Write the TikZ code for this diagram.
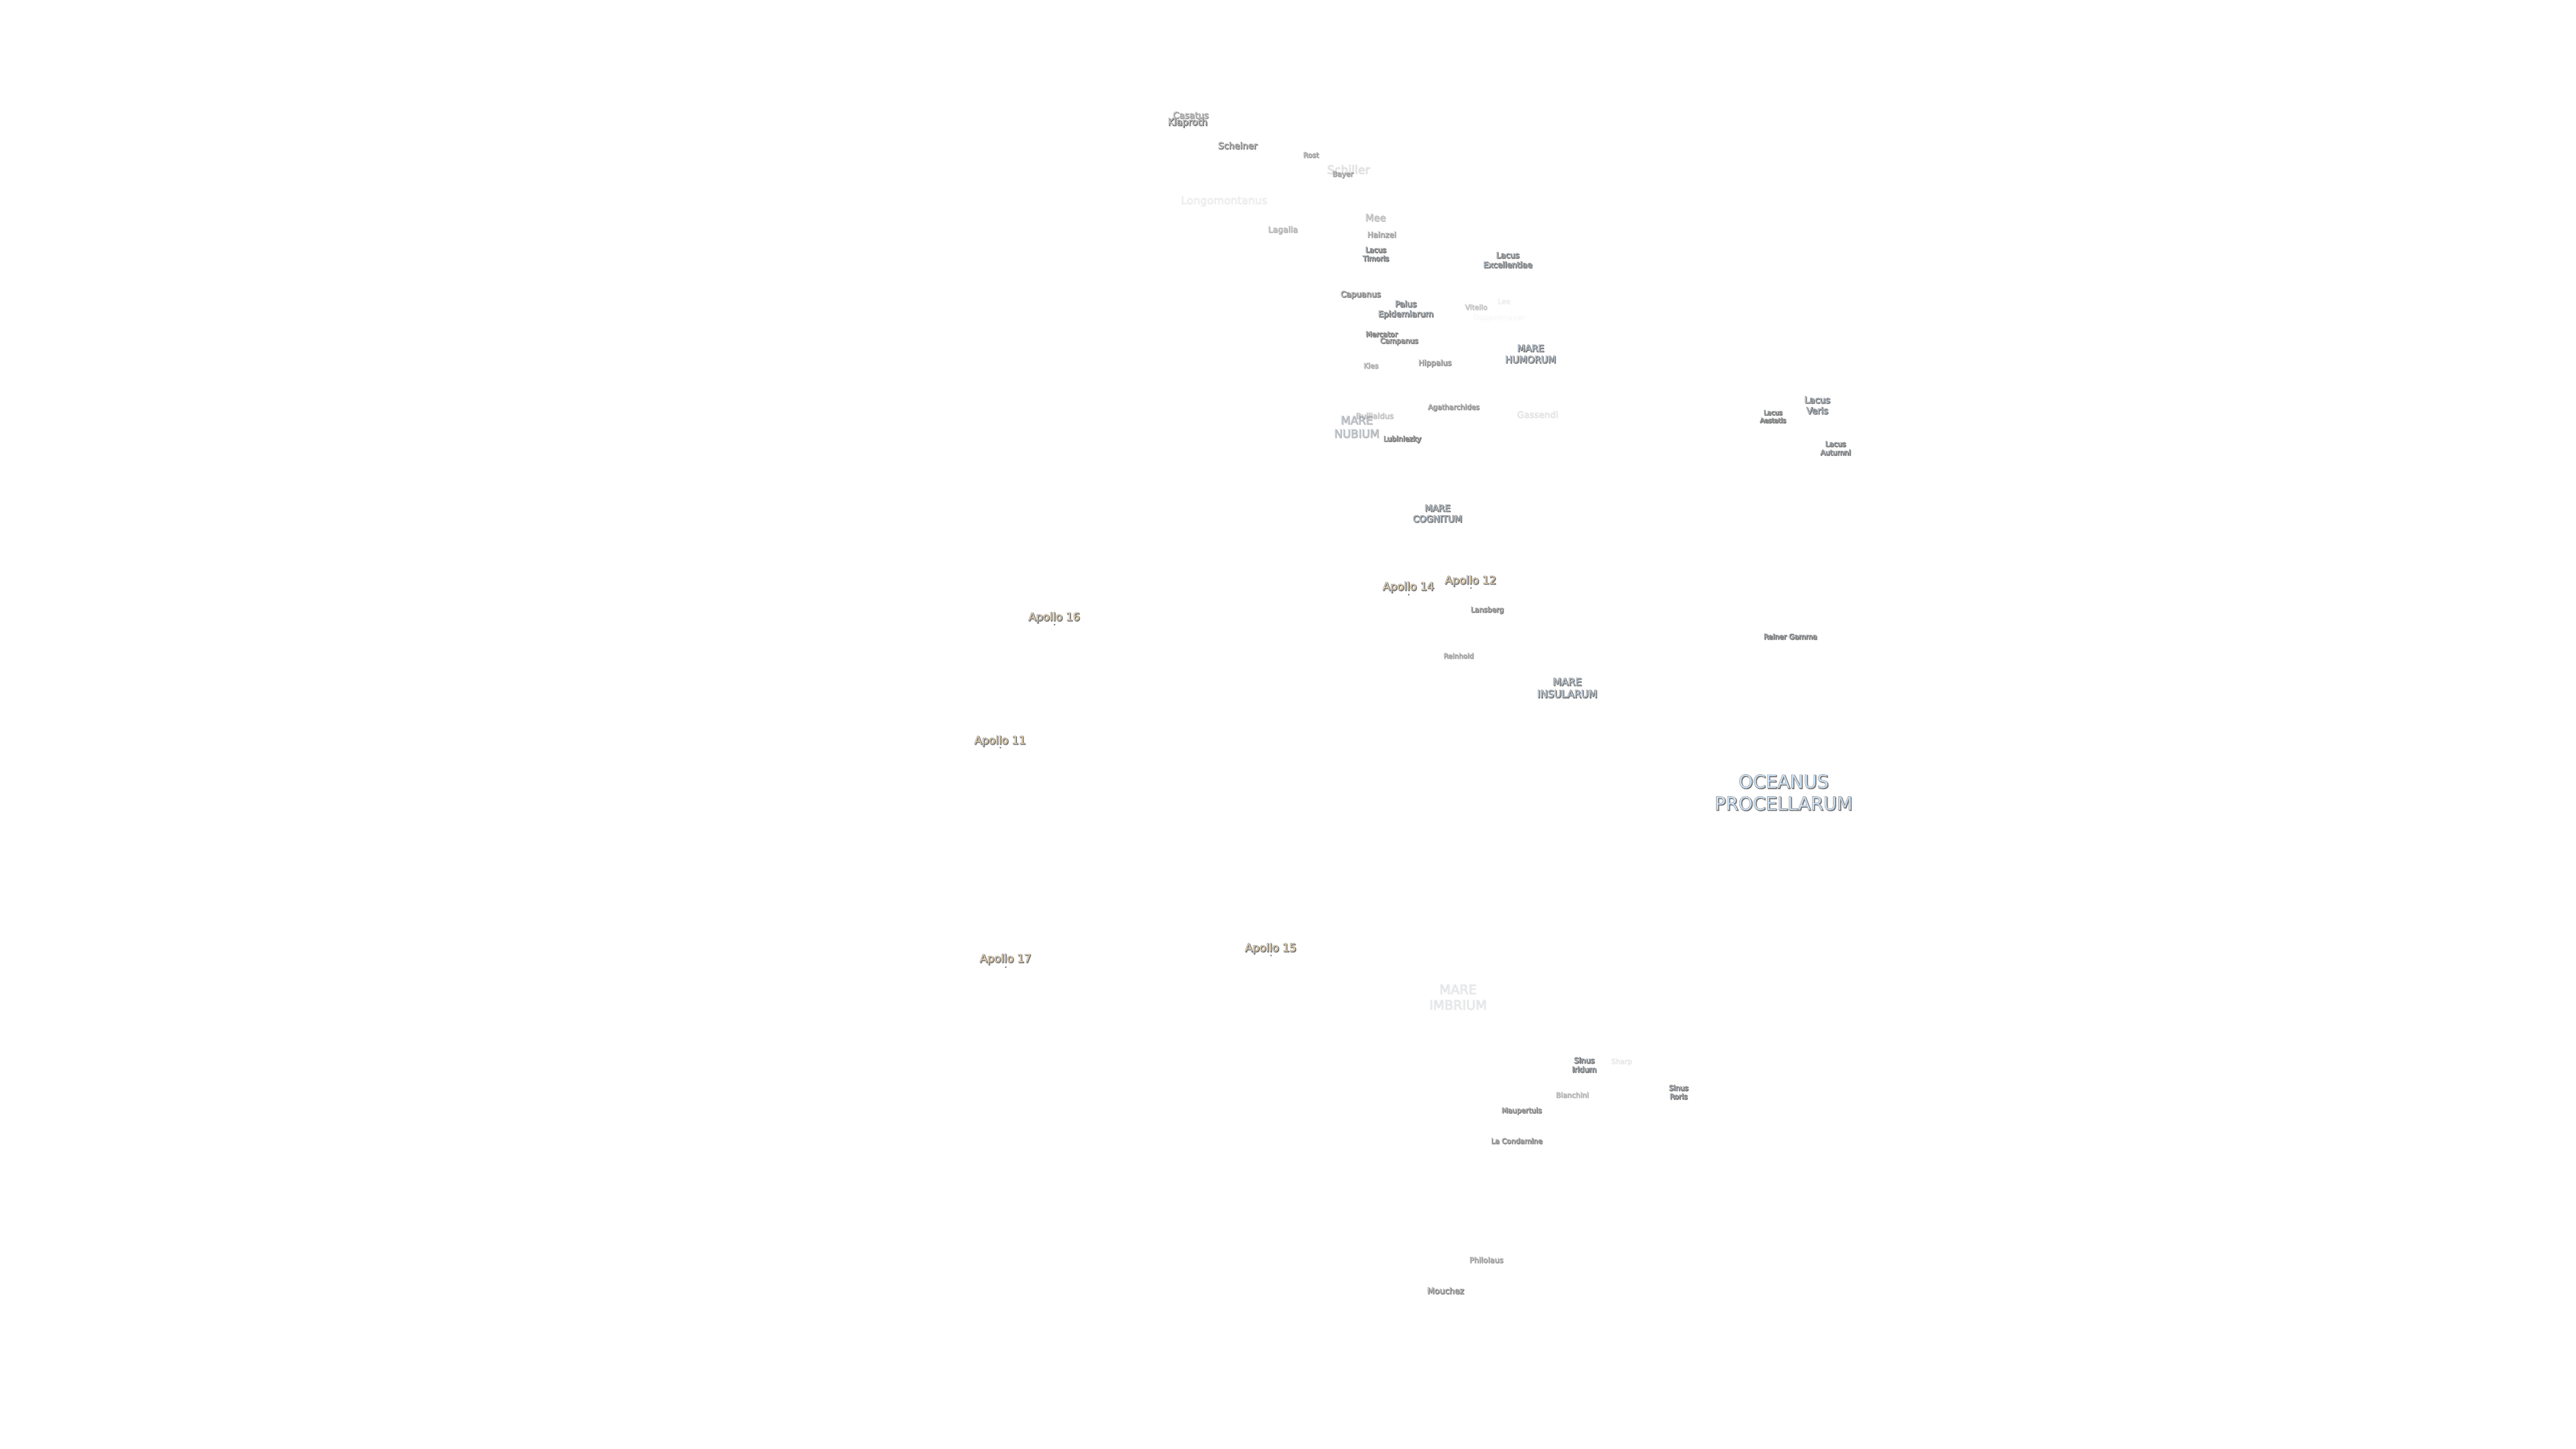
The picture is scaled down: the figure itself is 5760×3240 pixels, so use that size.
\documentclass[tikz,border=0pt]{standalone}
\usepackage{fontspec}
\setmainfont{DejaVu Sans}
\usepackage{xcolor}
\usetikzlibrary{positioning}
\definecolor{craterfill}{HTML}{F4F4F4}
\definecolor{marefill}{HTML}{CFE6FF}
\definecolor{apollofill}{HTML}{FFE2AE}
\definecolor{shadowgrey}{HTML}{777777}
% outlined text: stroke and fill at once
\newcommand{\outlined}[2]{\special{pdf:code 2 Tr #1 w 0.58 0.58 0.58 RG}#2\special{pdf:code 0 Tr}}
\newcommand{\shadowed}[2]{\special{pdf:code 2 Tr #1 w 0.47 0.47 0.47 RG}#2\special{pdf:code 0 Tr}}
\tikzset{
	moon/.style={align=center,inner sep=0pt,anchor=center},
	apollodot/.style={circle,fill=shadowgrey,inner sep=0pt,minimum size=1pt}
}
% one label, its shadow first: x, y, size, opacity, name, text, fill
\newcommand{\moonlabel}[7]{%
	\pgfmathsetmacro{\fs}{#3*0.25}
	\pgfmathsetmacro{\ls}{\fs*1.2}
	\node[moon,opacity=#4,text=shadowgrey,font=\fontsize{\fs}{\ls}\selectfont] (#5s) at (#1+1.6,#2+1.6) {\shadowed{0.34}{#6}};
	\node[moon,opacity=#4,text=#7,font=\fontsize{\fs}{\ls}\selectfont] (#5) at (#1,#2) {\outlined{0.2}{#6}};
}
\begin{document}
\begin{tikzpicture}[x=0.25pt,y=-0.25pt]
	\useasboundingbox (0,0) rectangle (5760,3240);
	% craters
	\foreach \x/\y/\s/\o/\n/\t in {
		2662/257/20/.55/casatus/Casatus,
		2655/274/21/1/klaproth/Klaproth,
		2767/325/20/.8/scheiner/Scheiner,
		2931/346/16/.5/rost/Rost,
		3014/378/26/.13/schiller/Schiller,
		3002/390/16/.5/bayer/Bayer,
		2736/449/24/.07/longomontanus/Longomontanus,
		3075/486/22/.3/mee/Mee,
		2868/514/18.5/.35/lagalla/Lagalla,
		3089/524/17.5/.5/hainzel/Hainzel,
		3042/659/18/.85/capuanus/Capuanus,
		3300/686/16/.25/vitello/Vitello,
		3362/673/16/.06/lee/Lee,
		3351/710/17/.02/doppelmayer/Doppelmayer,
		3089/747/16/1/mercator/Mercator,
		3128/763/16/.85/campanus/Campanus,
		3065/817/16/.4/kies/Kies,
		3208/812/17/.6/hippalus/Hippalus,
		3250/911/16/.6/agatharchides/Agatharchides,
		3073/929/17.5/.25/bullialdus/Bullialdus,
		3437/926/20/.1/gassendi/Gassendi,
		3135/982/16/1/lubiniezky/Lubiniezky,
		3325/1364/16/.8/lansberg/Lansberg,
		3261/1466/15.5/.5/reinhold/Reinhold,
		3625/2374/16/.08/sharp/Sharp,
		3515/2448/16/.35/bianchini/Bianchini,
		3402/2484/16/.8/maupertuis/Maupertuis,
		3391/2551/16/.75/condamine/La Condamine,
		3323/2817/17/.5/philolaus/Philolaus,
		3232/2886/18.5/.75/mouchez/Mouchez}
	\moonlabel{\x}{\y}{\s}{\o}{\n}{\t}{craterfill};
	% seas, lakes, bays
	\foreach \x/\y/\s/\o/\n/\t in {
		3076/568/16/1/timoris/{Lacus\\Timoris},
		3371/581/18/1/excellentiae/{Lacus\\Excellentiae},
		3143/692/18.5/1/epidemiarum/{Palus\\Epidemiarum},
		3422/791/21/1/humorum/{MARE\\HUMORUM},
		3033/954/25/.35/nubium/{MARE\\NUBIUM},
		4063/906/20/1/veris/{Lacus\\Veris},
		3964/931/14.5/1/aestatis/{Lacus\\Aestatis},
		4104/1002/16/1/autumni/{Lacus\\Autumni},
		3214/1148/20/1/cognitum/{MARE\\COGNITUM},
		3504/1538/22.5/1/insularum/{MARE\\INSULARUM},
		4003/1423/16/1/gamma/Reiner Gamma,
		3988/1772/41/1/procellarum/{OCEANUS\\PROCELLARUM},
		3259/2229/29/.1/imbrium/{MARE\\IMBRIUM},
		3542/2381/17/1/iridum/{Sinus\\Iridum},
		3753/2442/16/1/roris/{Sinus\\Roris}}
	\moonlabel{\x}{\y}{\s}{\o}{\n}{\t}{marefill};
	% landing sites
	\foreach \x/\y/\dy/\n/\t in {
		3288/1299/1315/twelve/Apollo 12,
		3149/1313/1330/fourteen/Apollo 14,
		2357/1381/1397/sixteen/Apollo 16,
		2236/1657/1672/eleven/Apollo 11,
		2841/2121/2137/fifteen/Apollo 15,
		2248/2145/2163/seventeen/Apollo 17}{
		\moonlabel{\x}{\y}{24.5}{1}{\n}{\t}{apollofill};
		\node[apollodot] (\n dot) at (\x+1,\dy) {};
	}
\end{tikzpicture}
\end{document}
